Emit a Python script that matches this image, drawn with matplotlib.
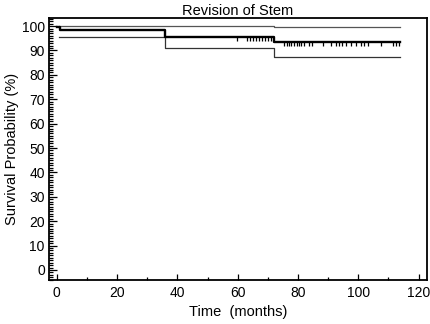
import matplotlib
matplotlib.use("Agg")
import matplotlib.pyplot as plt
from matplotlib.ticker import MultipleLocator

plt.rcParams['font.family'] = ['Liberation Sans', 'DejaVu Sans']

# Kaplan-Meier estimate (months, %)
km_t = [0, 1, 36, 72, 114]
km_s = [99.6, 98.4, 95.5, 93.6, 93.6]

# 95% confidence limits
upper_t = [0.7, 72, 114]
upper_s = [99.9, 99.5, 99.5]
lower_t = [0.7, 36, 72, 114]
lower_s = [95.4, 90.9, 87.3, 87.3]

# censored observations
cens_t = [59.7, 63.0, 64.0, 65.0, 66.0, 67.0, 68.0, 69.0, 70.0, 71.0,
          75.5, 76.3, 77.0, 77.8, 78.8, 79.6, 80.4, 81.1, 81.9,
          83.8, 84.8, 88.2, 91.0, 92.6, 93.5, 94.6, 95.9, 97.6, 99.2,
          100.9, 102.0, 103.1, 107.5, 111.4, 112.5, 113.6]
cens_s = [95.5] * 10 + [93.6] * 26

fig = plt.figure(figsize=(4.31, 3.24), dpi=100)
ax = fig.add_axes([0.1137, 0.1358, 0.877, 0.8086])

ax.step(upper_t, upper_s, where="post", color="#555555", lw=0.9)
ax.step(lower_t, lower_s, where="post", color="#333333", lw=0.9)
ax.step(km_t, km_s, where="post", color="black", lw=1.7)
ax.vlines(cens_t, [s - 1.6 for s in cens_s], cens_s, color="black", lw=0.9)

ax.set_xlim(-2.6, 122.8)
ax.set_ylim(-4.1, 103.3)
ax.xaxis.set_major_locator(MultipleLocator(20))
ax.xaxis.set_minor_locator(MultipleLocator(10))
ax.yaxis.set_major_locator(MultipleLocator(10))
ax.yaxis.set_minor_locator(MultipleLocator(1))
ax.tick_params(axis="both", which="both", direction="in", color="black",
               labelsize=10, width=0.9)
ax.tick_params(axis="y", which="major", length=6, pad=3)
ax.tick_params(axis="y", which="minor", length=3)
ax.tick_params(axis="x", which="major", length=4.5, pad=4)
ax.tick_params(axis="x", which="minor", length=2.5)
for sp in ax.spines.values():
    sp.set_linewidth(1.3)

ax.set_title("Revision of Stem", fontsize=10.5, pad=2)
ax.set_xlabel("Time  (months)", fontsize=10.5, labelpad=4)
ax.set_ylabel("Survival Probability (%)", fontsize=10.5, labelpad=2)

fig.savefig("out.png", dpi=100)
